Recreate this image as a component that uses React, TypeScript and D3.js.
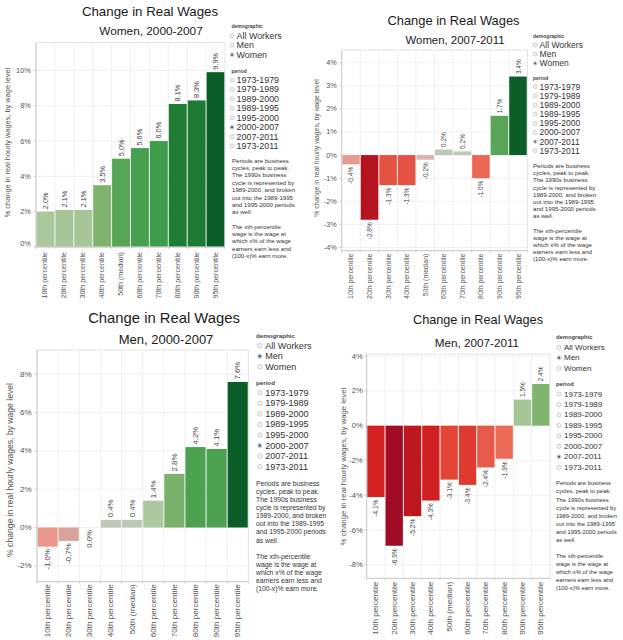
import React from "react";
import * as d3 from "d3";

// ---------- data ----------
const percentiles = [
  "10th percentile",
  "20th percentile",
  "30th percentile",
  "40th percentile",
  "50th (median)",
  "60th percentile",
  "70th percentile",
  "80th percentile",
  "90th percentile",
  "95th percentile",
];

const women2000_2007 = [2.0, 2.1, 2.1, 3.5, 5.0, 5.6, 6.0, 8.1, 8.3, 9.9];
const women2007_2011 = [-0.4, -2.8, -1.3, -1.3, -0.2, 0.24, 0.16, -1.0, 1.7, 3.4];
const men2000_2007 = [-1.0, -0.7, 0.0, 0.4, 0.4, 1.4, 2.8, 4.2, 4.1, 7.6];
const men2007_2011 = [-4.1, -6.9, -5.2, -4.3, -3.1, -3.4, -2.4, -1.9, 1.5, 2.4];

const ticksWomen2000_2007 = [0, 2, 4, 6, 8, 10];
const ticksWomen2007_2011 = [-4, -3, -2, -1, 0, 1, 2, 3, 4];
const ticksMen2000_2007 = [-2, 0, 2, 4, 6, 8];
const ticksMen2007_2011 = [-8, -6, -4, -2, 0, 2, 4];

const demographics = ["All Workers", "Men", "Women"];
const periods = [
  "1973-1979",
  "1979-1989",
  "1989-2000",
  "1989-1995",
  "1995-2000",
  "2000-2007",
  "2007-2011",
  "1973-2011",
];

const notesPeriods = [
  "Periods are business",
  "cycles, peak to peak.",
  "The 1990s business",
  "cycle is represented by",
  "1989-2000, and broken",
  "out into the 1989-1995",
  "and 1995-2000 periods",
  "as well.",
];
const notesPercentile = [
  "The xth-percentile",
  "wage is the wage at",
  "which x% of the wage",
  "earners earn less and",
  "(100-x)% earn more.",
];

const mainTitle = "Change in Real Wages";
const yAxisTitle = "% change in real hourly wages, by wage level";

// ---------- styles ----------
const FONT = "'Liberation Sans', Arial, sans-serif";
const colorStops = [-1, -0.8, -0.6, -0.45, -0.35, -0.28, -0.13, -0.09, -0.06, 0, 0.05, 0.2, 0.35, 0.5, 0.57, 0.62, 0.82, 1];
const colorRange = [
  "#a00b25", "#b8141e", "#d42020", "#e34535", "#e55a48", "#ec6a56", "#ea978c", "#d9a39d", "#d7b4b0",
  "#c8c6c2", "#bec8b6", "#abc89c", "#7fb46f", "#58a558", "#45a04e", "#3a9a47", "#1e7d33", "#0b5e28",
];

type Layout = {
  x0: number; x1: number; yTop: number; yBottom: number; domain: [number, number];
  titleX: number; titleY: number; titleF: number;
  subX: number; subY: number; subF: number;
  tickF: number; tickRight: number; zeroShift: number;
  yTitleX: number; yTitleY: number; yTitleF: number;
  xlabF: number; xlabOff: number; valF: number;
  headerX: number; radioX: number; textX: number; rr: number;
  itemF: number; headF: number;
  demoY: number; demoY0: number; demoStep: number;
  periodY: number; periodY0: number; periodStep: number;
  notesX: number; notesY0: number; notesStep: number; notes2Y0: number; notesF: number;
};

const layoutA: Layout = {
  x0: 36, x1: 225, yTop: 42.7, yBottom: 247, domain: [0, 11.57],
  titleX: 150, titleY: 11, titleF: 13.3, subX: 151, subY: 31, subF: 11.8,
  tickF: 7.3, tickRight: 30.7, zeroShift: -4,
  yTitleX: 7, yTitleY: 142.5, yTitleF: 7.4,
  xlabF: 7.1, xlabOff: 5, valF: 7.4,
  headerX: 231.5, radioX: 232, textX: 236.6, rr: 2.0, itemF: 8.9, headF: 5,
  demoY: 25.7, demoY0: 35.7, demoStep: 9.5,
  periodY: 70.7, periodY0: 80, periodStep: 9.43,
  notesX: 232, notesY0: 160, notesStep: 7.4, notes2Y0: 226, notesF: 6.1,
};
const layoutB: Layout = {
  x0: 341.7, x1: 527.3, yTop: 50, yBottom: 250.7, domain: [-4.14, 4.55],
  titleX: 453.5, titleY: 20, titleF: 12.9, subX: 455, subY: 40, subF: 11.4,
  tickF: 7.3, tickRight: 336.7, zeroShift: 0,
  yTitleX: 316.7, yTitleY: 148, yTitleF: 6.8,
  xlabF: 6.9, xlabOff: 3, valF: 6.5,
  headerX: 533, radioX: 535.2, textX: 539.6, rr: 1.9, itemF: 8.5, headF: 5,
  demoY: 36, demoY0: 45, demoStep: 9.15,
  periodY: 78.3, periodY0: 86.7, periodStep: 9.14,
  notesX: 533, notesY0: 165.7, notesStep: 7.14, notes2Y0: 230, notesF: 6.1,
};
const layoutC: Layout = {
  x0: 37, x1: 248.3, yTop: 350, yBottom: 581.7, domain: [-2.83, 9.27],
  titleX: 164, titleY: 318, titleF: 14.8, subX: 166, subY: 339, subF: 13,
  tickF: 8.1, tickRight: 31.7, zeroShift: 0,
  yTitleX: 10, yTitleY: 470, yTitleF: 8.6,
  xlabF: 8.1, xlabOff: 2.5, valF: 7.8,
  headerX: 256, radioX: 259.8, textX: 265.2, rr: 2.3, itemF: 9.1, headF: 6.2,
  demoY: 335, demoY0: 345.7, demoStep: 10.5,
  periodY: 382.3, periodY0: 392.7, periodStep: 10.57,
  notesX: 256, notesY0: 483.3, notesStep: 8.1, notes2Y0: 556, notesF: 6.8,
};
const layoutD: Layout = {
  x0: 366.7, x1: 550, yTop: 354, yBottom: 578.3, domain: [-8.77, 4.12],
  titleX: 478, titleY: 320, titleF: 12.7, subX: 477, subY: 342, subF: 11.7,
  tickF: 7.6, tickRight: 362.7, zeroShift: 0,
  yTitleX: 343, yTitleY: 466.5, yTitleF: 7.8,
  xlabF: 8.1, xlabOff: 3.4, valF: 6.6,
  headerX: 556, radioX: 559, textX: 564, rr: 2.1, itemF: 8, headF: 5.8,
  demoY: 337.3, demoY0: 347.3, demoStep: 10.5,
  periodY: 384, periodY0: 394, periodStep: 10.47,
  notesX: 556, notesY0: 483.3, notesStep: 8.1, notes2Y0: 556, notesF: 5.9,
};

const panels = [
  { subtitle: "Women, 2000-2007", values: women2000_2007, ticks: ticksWomen2000_2007, demo: "Women", period: "2000-2007", L: layoutA },
  { subtitle: "Women, 2007-2011", values: women2007_2011, ticks: ticksWomen2007_2011, demo: "Women", period: "2007-2011", L: layoutB },
  { subtitle: "Men, 2000-2007", values: men2000_2007, ticks: ticksMen2000_2007, demo: "Men", period: "2000-2007", L: layoutC },
  { subtitle: "Men, 2007-2011", values: men2007_2011, ticks: ticksMen2007_2011, demo: "Men", period: "2007-2011", L: layoutD },
];

function Radio({ cx, cy, r, selected }: { cx: number; cy: number; r: number; selected: boolean }) {
  return (
    <g>
      <circle cx={cx} cy={cy} r={r} fill="#f3f3f3" stroke="#b4b4b4" strokeWidth={0.6} />
      {selected && <circle cx={cx} cy={cy} r={r * 0.6} fill="#3d6688" />}
    </g>
  );
}

function Panel({ p }: { p: (typeof panels)[number] }) {
  const L = p.L;
  const x = d3.scaleBand<string>().domain(percentiles).range([L.x0, L.x1]);
  const y = d3.scaleLinear().domain(L.domain).range([L.yBottom, L.yTop]);
  const maxAbs = d3.max(p.values, (v) => Math.abs(v)) || 1;
  const color = d3
    .scaleLinear<string>()
    .domain(colorStops)
    .range(colorRange)
    .interpolate(d3.interpolateRgb)
    .clamp(true);
  const bw = x.bandwidth();
  const bounds = percentiles.map((c) => x(c)!).concat([L.x1]);
  const textColor = "#555";

  return (
    <g fontFamily={FONT}>
      <text x={L.titleX} y={L.titleY} textAnchor="middle" dominantBaseline="central" fontSize={L.titleF} fill="#1a1a1a">
        {mainTitle}
      </text>
      <text x={L.subX} y={L.subY} textAnchor="middle" dominantBaseline="central" fontSize={L.subF} fill="#1a1a1a">
        {p.subtitle}
      </text>

      {/* grid */}
      {p.ticks.map((t) => (
        <line key={"h" + t} x1={L.x0} x2={L.x1} y1={y(t)} y2={y(t)} stroke="#ececec" strokeWidth={0.8} />
      ))}
      {bounds.slice(1, -1).map((bx, i) => (
        <line key={"v" + i} x1={bx} x2={bx} y1={L.yTop} y2={L.yBottom} stroke="#ececec" strokeWidth={0.8} />
      ))}

      {/* bars */}
      {p.values.map((v, i) => {
        const cat = percentiles[i];
        const y0 = y(0);
        const yv = y(v);
        return (
          <rect
            key={cat}
            x={x(cat)! + 0.5}
            width={bw - 1}
            y={Math.min(y0, yv)}
            height={Math.abs(yv - y0)}
            fill={color(v / maxAbs)}
          />
        );
      })}

      {/* frame */}
      <rect x={L.x0} y={L.yTop} width={L.x1 - L.x0} height={L.yBottom - L.yTop} fill="none" stroke="#dcdcdc" strokeWidth={0.8} />
      <line x1={L.x0} x2={L.x0} y1={L.yTop} y2={L.yBottom} stroke="#c4c4c4" strokeWidth={0.8} />
      <line x1={L.x0} x2={L.x1} y1={L.yBottom} y2={L.yBottom} stroke="#c4c4c4" strokeWidth={0.8} />

      {/* y ticks */}
      {p.ticks.map((t) => (
        <g key={"t" + t}>
          <line x1={L.x0 - 3} x2={L.x0} y1={y(t)} y2={y(t)} stroke="#c4c4c4" strokeWidth={0.7} />
          <text
            x={L.tickRight}
            y={y(t) + (t === L.domain[0] ? L.zeroShift : 0)}
            textAnchor="end"
            dominantBaseline="central"
            fontSize={L.tickF}
            fill={textColor}
          >
            {t + "%"}
          </text>
        </g>
      ))}

      {/* x ticks and labels */}
      {bounds.map((bx, i) => (
        <line key={"xt" + i} x1={bx} x2={bx} y1={L.yBottom} y2={L.yBottom + 2.2} stroke="#c4c4c4" strokeWidth={0.7} />
      ))}
      {percentiles.map((c) => {
        const cx = x(c)! + bw / 2;
        const yy = L.yBottom + L.xlabOff;
        return (
          <text
            key={"xl" + c}
            transform={`translate(${cx},${yy}) rotate(-90)`}
            textAnchor="end"
            dominantBaseline="central"
            fontSize={L.xlabF}
            fill={textColor}
          >
            {c}
          </text>
        );
      })}

      {/* value labels */}
      {p.values.map((v, i) => {
        const cx = x(percentiles[i])! + bw / 2;
        const pos = v > 0;
        const yy = pos ? y(v) - 2.5 : y(v) + 2.5;
        return (
          <text
            key={"vl" + i}
            transform={`translate(${cx},${yy}) rotate(-90)`}
            textAnchor={pos ? "start" : "end"}
            dominantBaseline="central"
            fontSize={L.valF}
            fill="#444"
          >
            {v.toFixed(1) + "%"}
          </text>
        );
      })}

      {/* y axis title */}
      <text
        transform={`translate(${L.yTitleX},${L.yTitleY}) rotate(-90)`}
        textAnchor="middle"
        dominantBaseline="central"
        fontSize={L.yTitleF}
        fill={textColor}
      >
        {yAxisTitle}
      </text>

      {/* legend */}
      <text x={L.headerX} y={L.demoY} dominantBaseline="central" fontSize={L.headF} fontWeight="bold" fill="#444">
        demographic
      </text>
      {demographics.map((d, i) => {
        const cy = L.demoY0 + i * L.demoStep;
        return (
          <g key={"d" + d}>
            <Radio cx={L.radioX} cy={cy} r={L.rr} selected={d === p.demo} />
            <text x={L.textX} y={cy} dominantBaseline="central" fontSize={L.itemF} fill="#333">
              {d}
            </text>
          </g>
        );
      })}
      <text x={L.headerX} y={L.periodY} dominantBaseline="central" fontSize={L.headF} fontWeight="bold" fill="#444">
        period
      </text>
      {periods.map((d, i) => {
        const cy = L.periodY0 + i * L.periodStep;
        return (
          <g key={"p" + d}>
            <Radio cx={L.radioX} cy={cy} r={L.rr} selected={d === p.period} />
            <text x={L.textX} y={cy} dominantBaseline="central" fontSize={L.itemF} fill="#333">
              {d}
            </text>
          </g>
        );
      })}
      {notesPeriods.map((s, i) => (
        <text key={"n1" + i} x={L.notesX} y={L.notesY0 + i * L.notesStep} dominantBaseline="central" fontSize={L.notesF} fill="#333">
          {s}
        </text>
      ))}
      {notesPercentile.map((s, i) => (
        <text key={"n2" + i} x={L.notesX} y={L.notes2Y0 + i * L.notesStep} dominantBaseline="central" fontSize={L.notesF} fill="#333">
          {s}
        </text>
      ))}
    </g>
  );
}

export default function App() {
  return (
    <svg
      width={623}
      height={640}
      viewBox="0 0 623 640"
      style={{ position: "absolute", left: 0, top: 0, background: "#fff", display: "block" }}
    >
      <rect x={0} y={0} width={623} height={640} fill="#fff" />
      {panels.map((p, i) => (
        <Panel key={i} p={p} />
      ))}
    </svg>
  );
}
